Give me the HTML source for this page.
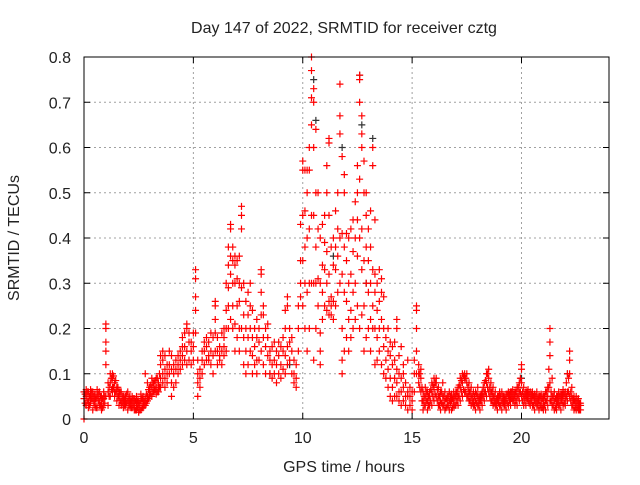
<!DOCTYPE html>
<html><head><meta charset="utf-8"><style>
body{margin:0;background:#fff}
svg text{font-family:"Liberation Sans","DejaVu Sans",sans-serif;font-size:16px;fill:#222}
</style></head><body>
<svg id="chart" width="640" height="480" xmlns="http://www.w3.org/2000/svg">
<rect width="640" height="480" fill="#fff"/>
<text x="344" y="33" text-anchor="middle">Day 147 of 2022, SRMTID for receiver cztg</text>
<text x="344" y="472" text-anchor="middle">GPS time / hours</text>
<text x="19" y="238" text-anchor="middle" transform="rotate(-90 19 238)">SRMTID / TECUs</text>
<g id="grid"></g><g id="marks"></g>
<rect x="84" y="57" width="525" height="362" fill="none" stroke="#000" stroke-width="1"/>
<g id="ticks"></g>
</svg>
<script>
const xTicks=[0,5,10,15,20];
const yTicks=[0,0.1,0.2,0.3,0.4,0.5,0.6,0.7,0.8];
const yTickLabels=["0","0.1","0.2","0.3","0.4","0.5","0.6","0.7","0.8"];
const redTimes=[0.0,0.1,0.2,0.3,0.4,0.5,0.6,0.7,0.8,0.9,1.0,1.1,1.2,1.3,1.4,1.5,1.6,1.7,1.8,1.9,2.0,2.1,2.2,2.3,2.4,2.5,2.6,2.7,2.8,2.9,3.0,3.1,3.2,3.3,3.4,3.5,3.6,3.7,3.8,3.9,4.0,4.1,4.2,4.3,4.4,4.5,4.6,4.7,4.8,4.9,5.0,5.1,5.2,5.3,5.4,5.5,5.6,5.7,5.8,5.9,6.0,6.1,6.2,6.3,6.4,6.5,6.6,6.7,6.8,6.9,7.0,7.1,7.2,7.3,7.4,7.5,7.6,7.7,7.8,7.9,8.0,8.1,8.2,8.3,8.4,8.5,8.6,8.7,8.8,8.9,9.0,9.1,9.2,9.3,9.4,9.5,9.6,9.7,9.8,9.9,10.0,10.1,10.2,10.3,10.4,10.5,10.6,10.7,10.8,10.9,11.0,11.1,11.2,11.3,11.4,11.5,11.6,11.7,11.8,11.9,12.0,12.1,12.2,12.3,12.4,12.5,12.6,12.7,12.8,12.9,13.0,13.1,13.2,13.3,13.4,13.5,13.6,13.7,13.8,13.9,14.0,14.1,14.2,14.3,14.4,14.5,14.6,14.7,14.8,14.9,15.0,15.1,15.2,15.3,15.4,15.5,15.6,15.7,15.8,15.9,16.0,16.1,16.2,16.3,16.4,16.5,16.6,16.7,16.8,16.9,17.0,17.1,17.2,17.3,17.4,17.5,17.6,17.7,17.8,17.9,18.0,18.1,18.2,18.3,18.4,18.5,18.6,18.7,18.8,18.9,19.0,19.1,19.2,19.3,19.4,19.5,19.6,19.7,19.8,19.9,20.0,20.1,20.2,20.3,20.4,20.5,20.6,20.7,20.8,20.9,21.0,21.1,21.2,21.3,21.4,21.5,21.6,21.7,21.8,21.9,22.0,22.1,22.2,22.3,22.4,22.5,22.6,22.7];
const redValues=[[0.045,0.0,0.06],[0.03,0.05,0.065],[0.04,0.06,0.025],[0.035,0.05,0.065],[0.02,0.045,0.06],[0.03,0.055,0.04],[0.025,0.05,0.065],[0.04,0.06,0.03],[0.02,0.035,0.05],[0.03,0.045,0.06],
[0.21,0.2,0.17,0.15,0.12,0.05],[0.03,0.06,0.08],[0.05,0.08,0.1],[0.06,0.09,0.1,0.07],[0.05,0.08,0.06],[0.04,0.06,0.07],[0.03,0.05,0.06],[0.04,0.03,0.06],[0.025,0.04,0.05],[0.03,0.05,0.045],
[0.02,0.04,0.06],[0.03,0.05,0.035],[0.025,0.04,0.05],[0.02,0.03,0.045],[0.02,0.035,0.05],[0.015,0.03,0.04],[0.02,0.04,0.055],[0.025,0.035,0.05],[0.03,0.045,0.1],[0.04,0.05,0.08],
[0.05,0.06,0.07],[0.05,0.07,0.09],[0.06,0.07,0.08],[0.055,0.07,0.09],[0.06,0.08,0.075],[0.07,0.09,0.12,0.14],[0.08,0.1,0.13,0.15],[0.07,0.09,0.11,0.14],[0.08,0.1,0.12],[0.1,0.12,0.15],
[0.05,0.08,0.11,0.14],[0.07,0.1,0.12],[0.08,0.11,0.13],[0.1,0.12,0.14],[0.11,0.13,0.15],[0.12,0.14,0.16,0.18],[0.13,0.16,0.19],[0.12,0.15,0.2,0.21],[0.13,0.17,0.19],[0.12,0.15,0.17],
[0.13,0.16,0.19],[0.33,0.31,0.27,0.24,0.19],[0.05,0.08,0.1,0.13],[0.07,0.09,0.11],[0.1,0.13,0.15],[0.12,0.15,0.17],[0.13,0.16,0.18],[0.14,0.17,0.13],[0.12,0.15,0.19],[0.1,0.14,0.18],
[0.15,0.19,0.22,0.26,0.25],[0.12,0.15,0.18],[0.13,0.16,0.14],[0.12,0.15,0.19],[0.14,0.18,0.2,0.16],[0.15,0.2,0.24,0.3],[0.2,0.25,0.29,0.34,0.38],[0.22,0.32,0.36,0.42,0.43],[0.2,0.25,0.3,0.35,0.38],[0.15,0.21,0.3,0.34,0.36],
[0.18,0.25,0.31,0.35],[0.15,0.2,0.26,0.3,0.36],[0.2,0.29,0.45,0.47,0.42],[0.12,0.18,0.23,0.3],[0.1,0.15,0.2,0.26],[0.12,0.18,0.23,0.28],[0.15,0.2,0.25,0.3],[0.1,0.14,0.18,0.24],[0.12,0.16,0.2],[0.1,0.13,0.18,0.22],
[0.13,0.17,0.2],[0.15,0.23,0.33,0.32,0.28],[0.12,0.18,0.23,0.25],[0.1,0.16,0.2],[0.14,0.18,0.21],[0.1,0.13,0.15],[0.09,0.12,0.16],[0.1,0.13,0.17],[0.08,0.12,0.15],[0.1,0.14,0.17],
[0.09,0.12,0.16],[0.11,0.15,0.18],[0.1,0.14,0.2,0.24],[0.12,0.16,0.25,0.27],[0.13,0.17,0.2],[0.1,0.15,0.18],[0.08,0.1,0.13],[0.07,0.09,0.12],[0.15,0.2,0.25],[0.27,0.3,0.35,0.43],
[0.25,0.35,0.45,0.55,0.57],[0.2,0.3,0.38,0.46,0.55],[0.15,0.28,0.4,0.5,0.55],[0.2,0.3,0.42,0.55,0.6],[0.3,0.45,0.65,0.71,0.77,0.8],[0.13,0.3,0.45,0.6,0.7,0.73],[0.2,0.3,0.38,0.5,0.64],[0.25,0.31,0.42,0.5],[0.12,0.15,0.19,0.3,0.4],[0.22,0.28,0.34,0.43],
[0.25,0.33,0.39,0.45],[0.24,0.3,0.37,0.5,0.56],[0.23,0.26,0.32,0.45,0.61,0.62],[0.23,0.25,0.27,0.38],[0.22,0.26,0.34,0.4],[0.25,0.33,0.38,0.46],[0.28,0.36,0.42,0.5],[0.3,0.4,0.63,0.67,0.74],[0.1,0.13,0.2,0.32,0.41,0.58],[0.15,0.28,0.38,0.5,0.54],
[0.18,0.26,0.35,0.41],[0.15,0.22,0.3,0.4],[0.18,0.24,0.32,0.42],[0.2,0.28,0.37,0.44],[0.22,0.3,0.4,0.48],[0.25,0.36,0.44,0.5,0.56],[0.2,0.4,0.53,0.7,0.75,0.76],[0.23,0.33,0.42,0.6,0.63,0.67],[0.15,0.25,0.35,0.5,0.57],[0.18,0.3,0.38,0.45,0.5],
[0.2,0.28,0.35,0.42],[0.15,0.22,0.3,0.38,0.46],[0.2,0.25,0.33,0.56,0.6],[0.12,0.2,0.28,0.32,0.44],[0.13,0.18,0.24,0.3],[0.15,0.2,0.26,0.33],[0.12,0.22,0.28,0.31],[0.1,0.16,0.2,0.27],[0.09,0.13,0.18],[0.07,0.11,0.15,0.2],
[0.05,0.09,0.14,0.17],[0.04,0.07,0.12,0.16],[0.05,0.09,0.13,0.17],[0.05,0.08,0.11,0.2,0.22],[0.04,0.06,0.1,0.14],[0.03,0.06,0.09,0.16],[0.04,0.07,0.1,0.12],[0.03,0.05,0.08],[0.02,0.05,0.06,0.13],[0.03,0.05,0.07],
[0.02,0.04,0.06],[0.06,0.1,0.13],[0.15,0.2,0.25,0.24,0.1],[0.08,0.1,0.12],[0.06,0.09,0.11],[0.02,0.04,0.06],[0.03,0.05,0.07],[0.02,0.04,0.06],[0.03,0.05,0.06],[0.03,0.06,0.08],
[0.04,0.07,0.09],[0.05,0.08,0.09],[0.03,0.05,0.07],[0.02,0.04,0.06],[0.03,0.05,0.08],[0.02,0.04,0.06],[0.03,0.05,0.04],[0.02,0.04,0.06],[0.02,0.04,0.055],[0.03,0.045,0.06],
[0.03,0.05,0.06],[0.03,0.05,0.07],[0.04,0.07,0.09],[0.05,0.08,0.1],[0.06,0.09,0.1],[0.05,0.08,0.1],[0.04,0.06,0.08],[0.03,0.05,0.07],[0.03,0.04,0.06],[0.02,0.04,0.06],
[0.03,0.05,0.07],[0.02,0.04,0.05],[0.03,0.05,0.06],[0.04,0.06,0.08],[0.05,0.08,0.1],[0.06,0.09,0.11],[0.04,0.06,0.08],[0.03,0.05,0.07],[0.03,0.04,0.06],[0.02,0.04,0.05],
[0.03,0.05,0.06],[0.02,0.04,0.06],[0.03,0.05,0.04],[0.02,0.04,0.055],[0.03,0.05,0.06],[0.03,0.045,0.06],[0.04,0.05,0.065],[0.03,0.05,0.06],[0.03,0.05,0.07],[0.04,0.06,0.08],
[0.05,0.08,0.11,0.12],[0.03,0.05,0.07],[0.03,0.05,0.06],[0.04,0.05,0.065],[0.03,0.045,0.06],[0.03,0.05,0.06],[0.02,0.04,0.055],[0.03,0.045,0.06],[0.02,0.04,0.05],[0.025,0.04,0.055],
[0.02,0.035,0.05],[0.02,0.04,0.06],[0.03,0.05,0.07],[0.04,0.08,0.14,0.17,0.2],[0.03,0.05,0.09],[0.02,0.04,0.06],[0.02,0.035,0.05],[0.03,0.045,0.06],[0.02,0.04,0.055],[0.03,0.05,0.065],
[0.03,0.045,0.06],[0.04,0.06,0.1],[0.05,0.1,0.13,0.15],[0.03,0.05,0.07],[0.02,0.04,0.05],[0.02,0.035,0.05],[0.02,0.03,0.045],[0.02,0.035,0.03]];
const extraTimes=[0.05,0.15,0.25,0.35,0.45,0.55,0.65,0.75,0.85,0.95,1.15,1.25,1.35,1.45,1.55,1.65,1.75,1.85,1.95,2.05,2.15,2.25,2.35,2.45,2.55,2.65,2.75,2.85,2.95,3.05,3.15,3.25,3.35,3.45,
15.35,15.45,15.55,15.65,15.75,15.85,15.95,16.05,16.15,16.25,16.35,16.45,16.55,16.65,16.75,16.85,16.95,17.05,17.15,17.25,17.35,17.45,17.55,17.65,17.75,17.85,17.95,18.05,18.15,18.25,18.35,18.45,18.55,18.65,18.75,18.85,18.95,19.05,19.15,19.25,19.35,19.45,19.55,19.65,19.75,19.85,19.95,20.05,20.15,20.25,20.35,20.45,20.55,20.65,20.75,20.85,20.95,21.05,21.15,21.25,21.35,21.45,21.55,21.65,21.75,21.85,21.95,22.05,22.15,22.25,22.35,22.45,22.55,22.65];
const extraValues=[[0.035,0.055],[0.04,0.06],[0.03,0.05],[0.045,0.06],[0.035,0.05],[0.025,0.045],[0.04,0.055],[0.03,0.05],[0.025,0.045],[0.035,0.05],[0.05,0.07],[0.065,0.09],[0.07,0.095],[0.06,0.085],[0.05,0.07],[0.04,0.06],[0.035,0.05],[0.03,0.045],[0.035,0.055],[0.03,0.045],[0.025,0.04],[0.03,0.045],[0.02,0.04],[0.025,0.04],[0.02,0.035],[0.025,0.045],[0.03,0.04],[0.035,0.055],[0.045,0.065],[0.055,0.075],[0.06,0.08],[0.065,0.085],[0.06,0.09],[0.07,0.1],
[0.07,0.1],[0.04,0.07],[0.03,0.05],[0.04,0.06],[0.03,0.05],[0.04,0.065],[0.05,0.075],[0.055,0.08],[0.04,0.065],[0.03,0.05],[0.035,0.06],[0.03,0.05],[0.025,0.045],[0.03,0.05],[0.035,0.05],[0.025,0.045],[0.03,0.05],[0.04,0.06],[0.05,0.075],[0.06,0.085],[0.065,0.095],[0.06,0.09],[0.05,0.07],[0.04,0.06],[0.035,0.05],[0.03,0.05],[0.035,0.055],[0.03,0.045],[0.04,0.055],[0.05,0.07],[0.06,0.085],[0.07,0.1],[0.05,0.07],[0.04,0.06],[0.035,0.05],[0.03,0.045],[0.035,0.05],[0.03,0.05],[0.035,0.05],[0.03,0.045],[0.035,0.055],[0.04,0.055],[0.045,0.06],[0.04,0.055],[0.04,0.06],[0.05,0.07],[0.06,0.09],[0.04,0.06],[0.04,0.055],[0.045,0.06],[0.035,0.055],[0.04,0.055],[0.03,0.05],[0.035,0.05],[0.03,0.045],[0.03,0.05],[0.025,0.045],[0.03,0.05],[0.04,0.06],[0.07,0.11],[0.04,0.06],[0.03,0.05],[0.025,0.045],[0.035,0.05],[0.03,0.05],[0.04,0.055],[0.035,0.055],[0.05,0.08],[0.06,0.09],[0.04,0.06],[0.03,0.045],[0.025,0.04],[0.025,0.04],[0.02,0.035]];
const grayTimes=[10.5,10.6,11.8,12.6,12.7,13.2,8.5,9.4,20.0,22.1,11.4,12.9];
const grayValues=[0.75,0.66,0.6,0.76,0.65,0.62,0.1,0.12,0.09,0.1,0.36,0.3];

const X0=84,X1=609,Y0=419,Y1=57,XMAX=24,YMAX=0.8;
function xs(t){return X0+(X1-X0)*t/XMAX;}
function ys(v){return Y0-(Y0-Y1)*v/YMAX;}
const NS="http://www.w3.org/2000/svg";
const grid=document.getElementById('grid'),ticks=document.getElementById('ticks'),marks=document.getElementById('marks');
function mk(tag,attrs,parent){const e=document.createElementNS(NS,tag);for(const k in attrs)e.setAttribute(k,attrs[k]);parent.appendChild(e);return e;}
xTicks.forEach(t=>{
  const x=xs(t);
  if(t>0){const g=mk('line',{x1:x,x2:x,y1:Y1,y2:Y0,stroke:'#a0a0a0','stroke-dasharray':'2,3'},grid);
  
  }
  mk('line',{x1:x,x2:x,y1:Y0,y2:Y0-6,stroke:'#000'},ticks);
  mk('line',{x1:x,x2:x,y1:Y1,y2:Y1+6,stroke:'#000'},ticks);
  const l=mk('text',{x:x,y:Y0+24,'text-anchor':'middle'},ticks);l.textContent=t;
  
  
});
yTicks.forEach((v,i)=>{
  const y=ys(v);
  if(v>0&&v<YMAX){const g=mk('line',{x1:X0,x2:X1,y1:y,y2:y,stroke:'#a0a0a0','stroke-dasharray':'2,3'},grid);
  
  }
  mk('line',{x1:X0,x2:X0+6,y1:y,y2:y,stroke:'#000'},ticks);
  mk('line',{x1:X1,x2:X1-6,y1:y,y2:y,stroke:'#000'},ticks);
  const l=mk('text',{x:X0-13,y:y+6,'text-anchor':'end'},ticks);l.textContent=yTickLabels[i];
  
  
});
function plus(t,v,color,name){
  const x=xs(t),y=ys(v);
  const p=mk('path',{d:`M${x-3.5} ${y}H${x+3.5}M${x} ${y-3.5}V${y+3.5}`,stroke:color,'stroke-width':1.2,fill:'none'},marks);
  
  
}
grayTimes.forEach((t,i)=>plus(t,grayValues[i],'#333','gray-point'));
redTimes.forEach((t,i)=>redValues[i].forEach(v=>plus(t,v,'#ff0000','red-point')));
extraTimes.forEach((t,i)=>extraValues[i].forEach(v=>plus(t,v,'#ff0000','red-point')));
</script>
</body></html>
